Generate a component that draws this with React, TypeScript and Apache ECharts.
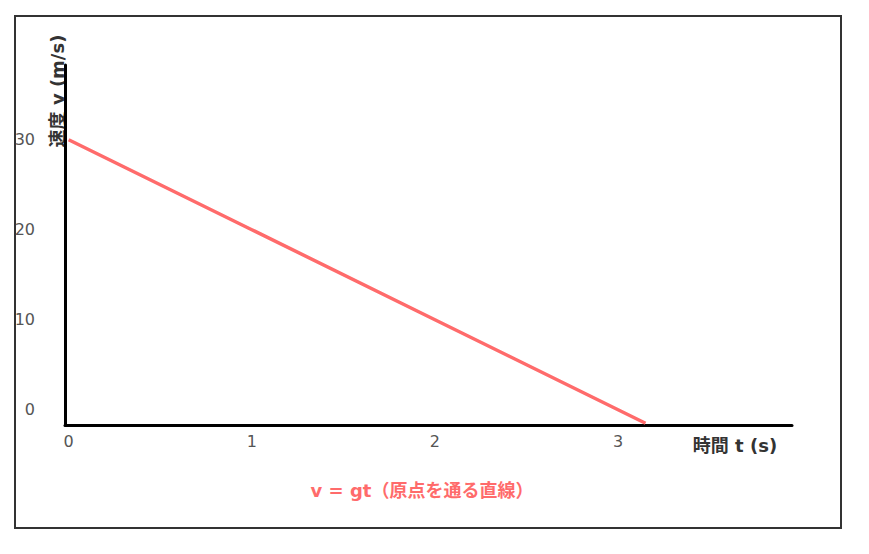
import React, { useEffect, useRef } from "react";
import * as echarts from "echarts";

const timeValues: number[] = [0, 1, 2, 3, 3.15];
const speedValues: number[] = [30, 20, 10, 0, -1.5];
const titleText = "v = gt（原点を通る直線）";
const xAxisName = "時間 t (s)";
const yAxisName = "速度 v (m/s)";

export default function App() {
  const ref = useRef<HTMLDivElement>(null);
  useEffect(() => {
    if (!ref.current) return;
    const chart = echarts.init(ref.current, undefined, { renderer: "svg" });
    const data = timeValues.map((t, i) => [t, speedValues[i]]);
    const intLabel = (v: number) => (Math.abs(v - Math.round(v)) < 1e-9 ? String(Math.round(v)) : "");
    chart.setOption({
      animation: false,
      title: {
        text: titleText,
        left: 414,
        top: 473,
        textAlign: "center",
        padding: 0,
        textStyle: { color: "#ff6b6b", fontSize: 18, fontWeight: "bold", fontFamily: "DejaVu Sans, Noto Sans CJK JP, sans-serif" },
      },
      grid: { left: 57, top: 57, right: 69, bottom: 121, containLabel: false },
      xAxis: {
        type: "value",
        min: -0.02,
        max: 3.95,
        splitLine: { show: false },
        axisTick: { show: false },
        axisLine: { show: true, onZero: false, lineStyle: { color: "#000", width: 3 } },
        axisLabel: { formatter: intLabel, color: "#555", fontSize: 16, margin: 8, fontFamily: "DejaVu Sans, sans-serif" },
      },
      yAxis: {
        type: "value",
        min: -1.7,
        max: 38.3,
        splitLine: { show: false },
        axisTick: { show: false },
        axisLine: { show: true, onZero: false, lineStyle: { color: "#000", width: 3 } },
        axisLabel: { formatter: intLabel, color: "#555", fontSize: 16, margin: 30, fontFamily: "DejaVu Sans, sans-serif" },
      },
      series: [
        {
          type: "line",
          data,
          showSymbol: false,
          symbol: "none",
          lineStyle: { color: "#ff6b6b", width: 3.5 },
          itemStyle: { color: "#ff6b6b" },
        },
      ],
      graphic: [
        {
          type: "rect",
          shape: { x: 7, y: 8, width: 826, height: 512 },
          style: { fill: "none", stroke: "#333", lineWidth: 2 },
          silent: true,
        },
        {
          type: "text",
          x: 727,
          y: 437,
          style: {
            text: xAxisName,
            fill: "#333",
            font: "bold 18px 'DejaVu Sans', 'Noto Sans CJK JP', sans-serif",
            textAlign: "center",
            textVerticalAlign: "middle",
          },
        },
        {
          type: "text",
          x: 49,
          y: 83,
          rotation: Math.PI / 2,
          style: {
            text: yAxisName,
            fill: "#333",
            font: "bold 18px 'DejaVu Sans', 'Noto Sans CJK JP', sans-serif",
            textAlign: "center",
            textVerticalAlign: "middle",
          },
        },
      ],
    });
    return () => chart.dispose();
  }, []);
  return <div ref={ref} style={{ width: 853, height: 538 }} />;
}
